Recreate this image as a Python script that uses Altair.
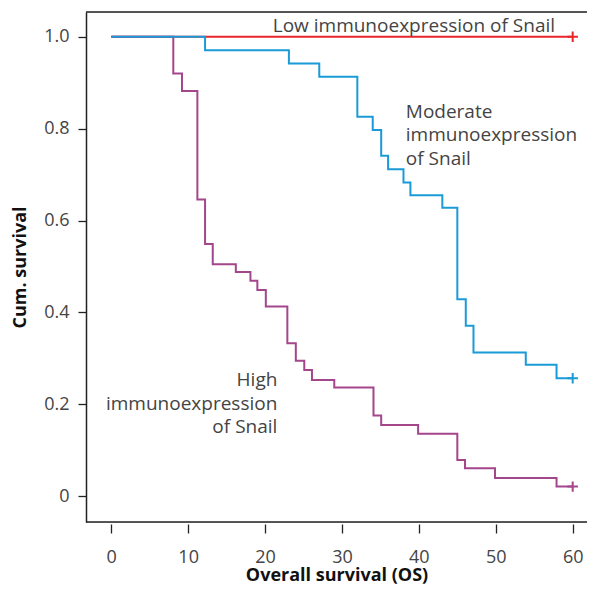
import altair as alt
import pandas as pd

# ---- data ----
low_t = [0, 60]
low_s = [1.0, 1.0]

mod_t = [0, 12.2, 23.1, 27.05, 32.0, 34.0, 35.1, 36.0, 38.0, 38.9, 43.05, 45.0, 46.1, 47.1, 53.9, 57.9, 60]
mod_s = [1.0, 0.971, 0.942, 0.913, 0.826, 0.797, 0.741, 0.712, 0.683, 0.655, 0.628, 0.429, 0.371, 0.313, 0.286, 0.257, 0.257]

high_t = [0, 8.07, 9.2, 11.2, 12.2, 13.2, 16.2, 18.1, 19.0, 20.1, 22.9, 24.0, 25.1, 26.1, 29.0,
          34.1, 35.1, 39.9, 45.0, 46.0, 49.9, 57.9, 60]
high_s = [1.0, 0.920, 0.882, 0.646, 0.549, 0.505, 0.488, 0.469, 0.449, 0.413, 0.333, 0.295, 0.275,
          0.253, 0.237, 0.176, 0.155, 0.136, 0.079, 0.061, 0.040, 0.021, 0.021]

groups = ["Low", "Moderate", "High"]
colors = ["#e8262c", "#1b9ad8", "#a4468b"]

label_text = [["Low immunoexpression of Snail"],
              ["Moderate", "immunoexpression", "of Snail"],
              ["High", "immunoexpression", "of Snail"]]
label_x = [21.0, 38.3, 21.6]
label_y = [1.010, 0.824, 0.240]
label_align = ["left", "left", "right"]

x_ticks = [0, 10, 20, 30, 40, 50, 60]
y_ticks = [0, 0.2, 0.4, 0.6, 0.8, 1.0]
x_domain = [-3.28, 61.86]
y_domain = [-0.056, 1.054]

# ---- tables ----
rows = []
for g, ts, ss in zip(groups, [low_t, mod_t, high_t], [low_s, mod_s, high_s]):
    for t, s in zip(ts, ss):
        rows.append({"group": g, "t": t, "s": s})
curves = pd.DataFrame(rows)

censor = pd.DataFrame({"group": groups,
                       "t": [low_t[-1], mod_t[-1], high_t[-1]],
                       "s": [low_s[-1], mod_s[-1], high_s[-1]]})

labels = pd.DataFrame({"text": label_text, "x": label_x, "y": label_y, "align": label_align})
frame = pd.DataFrame({"y": [y_domain[0], y_domain[1]]})

FONT = "Open Sans"

xscale = alt.Scale(domain=x_domain, nice=False, zero=False)
yscale = alt.Scale(domain=y_domain, nice=False, zero=False)
cscale = alt.Scale(domain=groups, range=colors)

xaxis = alt.Axis(values=x_ticks, domain=False, offset=2, tickSize=9, tickColor="#222",
                 tickWidth=1.3, labelFontSize=18, labelFont=FONT, labelFontWeight=400,
                 labelColor="#444", labelPadding=15, grid=False,
                 title="Overall survival (OS)", titleFont=FONT, titleFontSize=18,
                 titleFontWeight="bold", titleColor="#111", titlePadding=0)
yaxis = alt.Axis(values=y_ticks, domain=True, domainColor="#222", domainWidth=1.5,
                 tickSize=8, tickColor="#222", tickWidth=1.3, labelFontSize=18,
                 labelFont=FONT, labelFontWeight=400, labelColor="#444", labelPadding=9,
                 labelExpr="datum.value == 0 ? '0' : format(datum.value, '.1f')", grid=False,
                 title="Cum. survival", titleFont=FONT, titleFontSize=18,
                 titleFontWeight="bold", titleColor="#111", titlePadding=14)

base = alt.Chart(curves)

frame_rules = alt.Chart(frame).mark_rule(color="#222", strokeWidth=1.5).encode(
    y=alt.Y("y:Q", scale=yscale, axis=yaxis)
)

def curve(g):
    return base.transform_filter(alt.datum.group == g).mark_line(
        interpolate="step-after", strokeWidth=2
    ).encode(
        x=alt.X("t:Q", scale=xscale, axis=xaxis),
        y=alt.Y("s:Q", scale=yscale, axis=yaxis),
        color=alt.Color("group:N", scale=cscale, legend=None),
    )

censor_marks = alt.Chart(censor).mark_point(
    shape="M-1,0L1,0M0,-1L0,1", size=110, strokeWidth=2, filled=False, opacity=1
).encode(
    x=alt.X("t:Q", scale=xscale),
    y=alt.Y("s:Q", scale=yscale),
    color=alt.Color("group:N", scale=cscale, legend=None),
)

def text_layer(al):
    return alt.Chart(labels).transform_filter(alt.datum.align == al).mark_text(
        align=al, baseline="alphabetic", font=FONT, fontSize=19, fontWeight=400,
        color="#444", lineHeight=23.5
    ).encode(
        x=alt.X("x:Q", scale=xscale),
        y=alt.Y("y:Q", scale=yscale),
        text="text",
    )

chart = alt.layer(
    frame_rules, curve("Low"), curve("High"), curve("Moderate"), censor_marks,
    text_layer("left"), text_layer("right")
).properties(
    width=501, height=510,
    autosize=alt.AutoSizeParams(type="none"),
    padding={"left": 78, "top": 4, "right": 0, "bottom": 65},
).configure_view(stroke=None).configure(background="white")

chart.save("out.html", embed_options={"renderer": "svg", "actions": False})
